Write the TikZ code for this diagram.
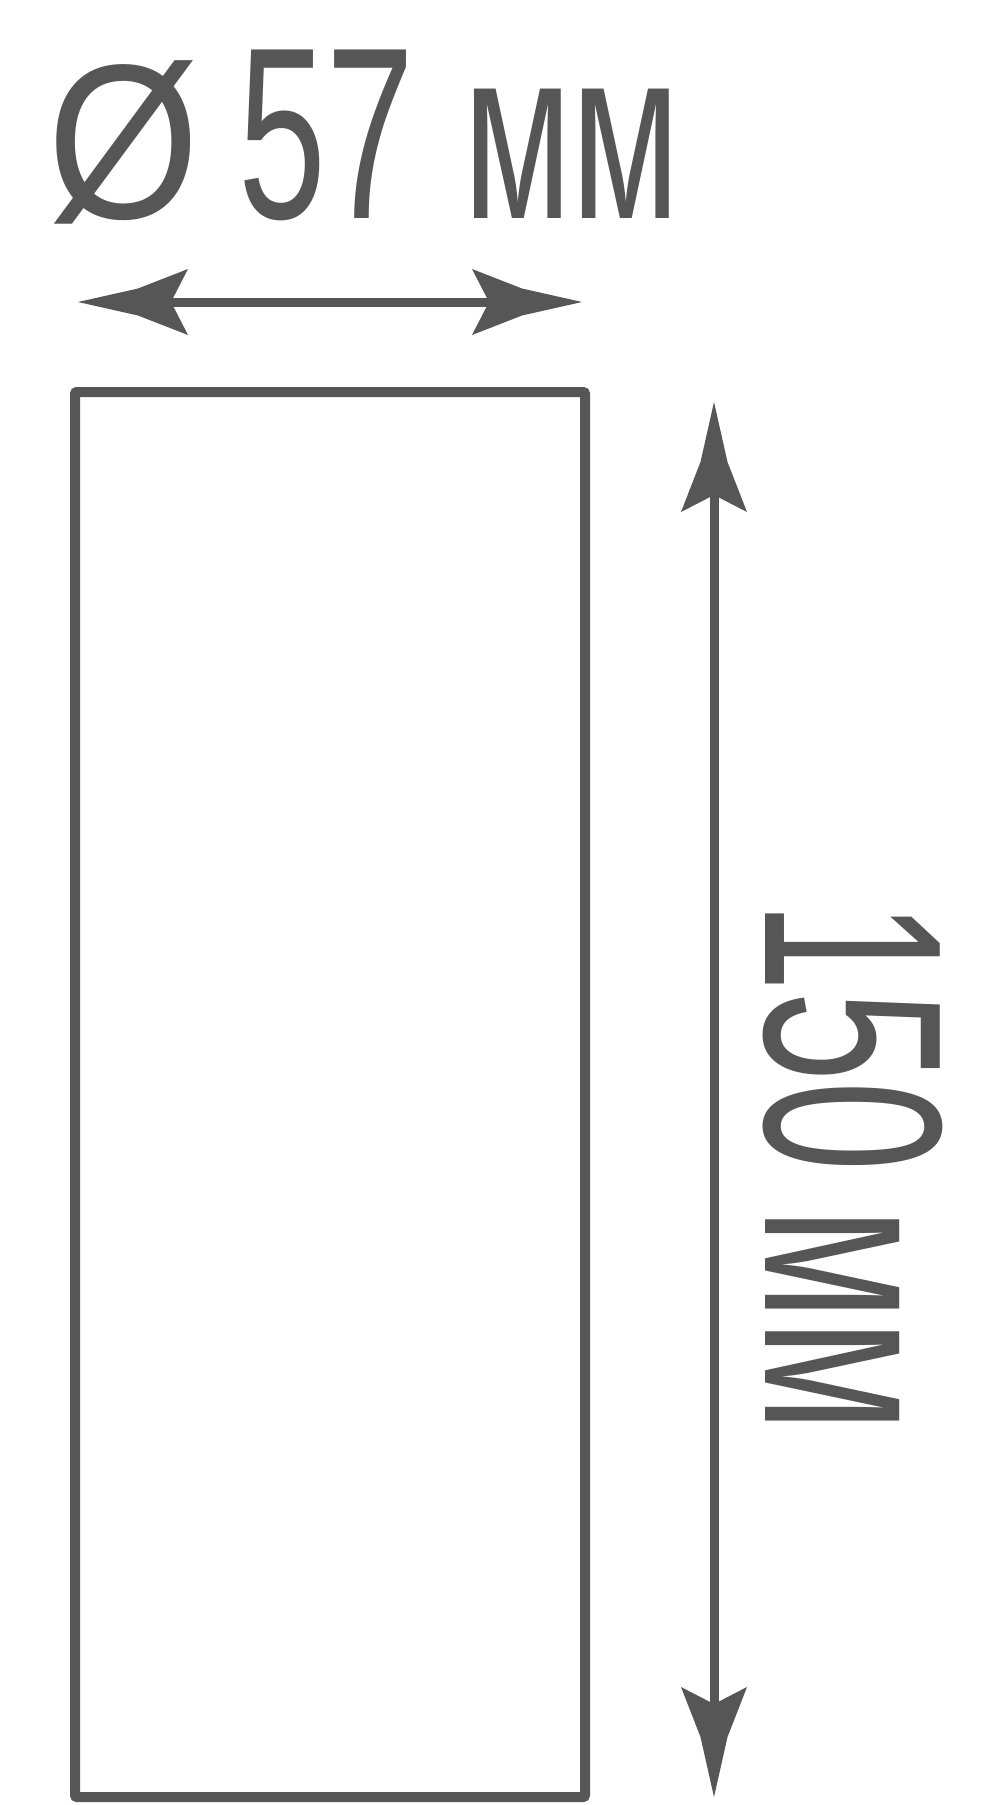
\documentclass[tikz,border=0pt]{standalone}
\usepackage{fontspec}
\usetikzlibrary{arrows.meta}
\newfontfamily\dimfont{Liberation Sans}
\definecolor{dimgray}{RGB}{86,86,86}
\pgfdeclarearrow{
  name = DimTip,
  setup code = {
    \pgfarrowssettipend{0pt}
    \pgfarrowssetlineend{-85pt}
    \pgfarrowssetvisualbackend{-93pt}
    \pgfarrowssetbackend{-110pt}
    \pgfarrowshullpoint{0pt}{0pt}
    \pgfarrowsupperhullpoint{-110pt}{33pt}
  },
  drawing code = {
    \pgfpathmoveto{\pgfpoint{0pt}{0pt}}
    \pgfpathlineto{\pgfpoint{-60pt}{13.5pt}}
    \pgfpathlineto{\pgfpoint{-110pt}{33pt}}
    \pgfpathlineto{\pgfpoint{-93pt}{0pt}}
    \pgfpathlineto{\pgfpoint{-110pt}{-33pt}}
    \pgfpathlineto{\pgfpoint{-60pt}{-13.5pt}}
    \pgfpathclose
    \pgfusepathqfill
  }
}
\tikzset{
  dimline/.style={draw=dimgray, fill=dimgray, line width=9pt, arrows={DimTip-DimTip}},
  bodybox/.style={draw=dimgray, line width=10pt, inner sep=0pt, outer sep=0pt, rounded corners=2pt},
  dimtext/.style={text=dimgray, inner sep=0pt, outer sep=0pt, font=\dimfont}
}
\begin{document}
\begin{tikzpicture}[x=1pt, y=-1pt]
\useasboundingbox[fill=white] (0,0) rectangle (1000,1805);
% top label
\node[dimtext, anchor=base west] (diam) at (47,218)
  {\fontsize{245pt}{250pt}\selectfont\scalebox{0.80}[0.90]{Ø}\hspace{39pt}\scalebox{0.645}[1]{57\hspace{0.31em}мм}};
% horizontal dimension
\coordinate (hL) at (78,302);
\coordinate (hR) at (582,302);
\draw[dimline] (hL) -- (hR);
% body
\node[bodybox, minimum width=510pt, minimum height=1405pt] (body) at (330,1094.5) {};
% vertical dimension
\coordinate (vT) at (714,402);
\coordinate (vB) at (714,1797);
\draw[dimline] (vT) -- (vB);
% vertical label
\node[dimtext, anchor=base west, rotate=-90] (len) at (765,901)
  {\fontsize{254pt}{258pt}\selectfont\scalebox{0.64}[1]{150\hspace{0.223em}мм}};
\end{tikzpicture}
\end{document}
